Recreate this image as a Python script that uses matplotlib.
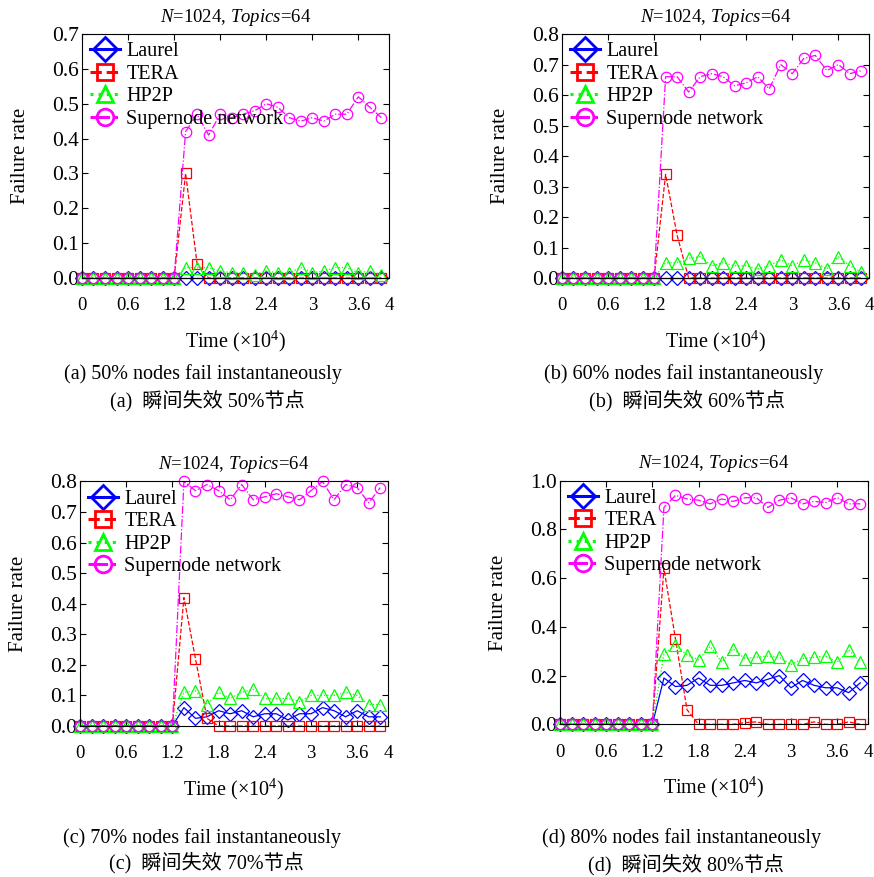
import matplotlib
matplotlib.use("Agg")
import matplotlib.pyplot as plt
from matplotlib.lines import Line2D

plt.rcParams['font.family'] = ['Liberation Serif', 'Noto Sans CJK SC']
plt.rcParams['mathtext.fontset'] = 'custom'
plt.rcParams['mathtext.rm'] = 'Liberation Serif'
plt.rcParams['mathtext.it'] = 'Liberation Serif:italic'

# time axis (x10^4)
time = [0.0, 0.15, 0.3, 0.45, 0.6, 0.75, 0.9, 1.05, 1.2,
        1.35, 1.5, 1.65, 1.8, 1.95, 2.1, 2.25, 2.4, 2.55,
        2.7, 2.85, 3.0, 3.15, 3.3, 3.45, 3.6, 3.75, 3.9]

series_names = ["Laurel", "TERA", "HP2P", "Supernode network"]

# (a) 50% nodes fail
laurel_a = [0, 0, 0, 0, 0, 0, 0, 0, 0,
            0, 0, 0, 0, 0, 0, 0, 0, 0,
            0, 0, 0, 0, 0, 0, 0, 0, 0]
tera_a = [0, 0, 0, 0, 0, 0, 0, 0, 0,
          0.30, 0.04, 0, 0, 0, 0, 0, 0, 0,
          0, 0, 0, 0, 0, 0, 0, 0, 0]
hp2p_a = [0, 0, 0, 0, 0, 0, 0, 0, 0,
          0.03, 0.03, 0.03, 0.02, 0.015, 0.015, 0.01, 0.02, 0.015,
          0.015, 0.03, 0.015, 0.02, 0.03, 0.03, 0.015, 0.02, 0.01]
super_a = [0, 0, 0, 0, 0, 0, 0, 0, 0,
           0.42, 0.47, 0.41, 0.47, 0.46, 0.47, 0.48, 0.50, 0.49,
           0.46, 0.45, 0.46, 0.45, 0.47, 0.47, 0.52, 0.49, 0.46]

# (b) 60% nodes fail
laurel_b = [0, 0, 0, 0, 0, 0, 0, 0, 0,
            0, 0, 0, 0, 0, 0, 0, 0, 0,
            0, 0, 0, 0, 0, 0, 0, 0, 0]
tera_b = [0, 0, 0, 0, 0, 0, 0, 0, 0,
          0.34, 0.14, 0, 0, 0, 0, 0, 0, 0,
          0, 0, 0, 0, 0, 0, 0, 0, 0]
hp2p_b = [0, 0, 0, 0, 0, 0, 0, 0, 0,
          0.05, 0.05, 0.065, 0.07, 0.04, 0.05, 0.04, 0.04, 0.03,
          0.04, 0.06, 0.04, 0.06, 0.05, 0.03, 0.07, 0.04, 0.02]
super_b = [0, 0, 0, 0, 0, 0, 0, 0, 0,
           0.66, 0.66, 0.61, 0.66, 0.67, 0.66, 0.63, 0.64, 0.66,
           0.62, 0.70, 0.67, 0.72, 0.73, 0.68, 0.70, 0.67, 0.68]

# (c) 70% nodes fail
laurel_c = [0, 0, 0, 0, 0, 0, 0, 0, 0,
            0.06, 0.025, 0.03, 0.05, 0.04, 0.05, 0.03, 0.04, 0.04,
            0.02, 0.04, 0.04, 0.06, 0.05, 0.03, 0.05, 0.03, 0.03]
tera_c = [0, 0, 0, 0, 0, 0, 0, 0, 0,
          0.42, 0.22, 0.025, 0, 0, 0, 0, 0, 0,
          0, 0, 0, 0, 0, 0, 0, 0, 0]
hp2p_c = [0, 0, 0, 0, 0, 0, 0, 0, 0,
          0.11, 0.115, 0.07, 0.11, 0.09, 0.11, 0.12, 0.09, 0.09,
          0.09, 0.08, 0.10, 0.10, 0.10, 0.11, 0.10, 0.07, 0.07]
super_c = [0, 0, 0, 0, 0, 0, 0, 0, 0,
           0.80, 0.77, 0.79, 0.77, 0.74, 0.79, 0.74, 0.75, 0.76,
           0.75, 0.74, 0.77, 0.80, 0.74, 0.79, 0.78, 0.73, 0.78]

# (d) 80% nodes fail
laurel_d = [0, 0, 0, 0, 0, 0, 0, 0, 0,
            0.19, 0.155, 0.16, 0.19, 0.16, 0.16, 0.17, 0.18, 0.17,
            0.185, 0.20, 0.15, 0.18, 0.16, 0.15, 0.15, 0.13, 0.17]
tera_d = [0, 0, 0, 0, 0, 0, 0, 0, 0,
          0.64, 0.35, 0.06, 0, 0, 0, 0, 0.007, 0.01,
          0, 0, 0, 0, 0.01, 0, 0, 0.01, 0]
hp2p_d = [0, 0, 0, 0, 0, 0, 0, 0, 0,
          0.29, 0.325, 0.285, 0.265, 0.32, 0.255, 0.31, 0.27, 0.275,
          0.28, 0.275, 0.245, 0.27, 0.275, 0.28, 0.255, 0.305, 0.255]
super_d = [0, 0, 0, 0, 0, 0, 0, 0, 0,
           0.89, 0.94, 0.925, 0.92, 0.905, 0.925, 0.915, 0.93, 0.93,
           0.89, 0.92, 0.93, 0.905, 0.915, 0.91, 0.93, 0.905, 0.905]

# letter, percent, series, ymax, axes rect, caption y (line 1, line 2)
panels = [
    ("a", "50", [laurel_a, tera_a, hp2p_a, super_a], 0.7, [0.0938, 0.683, 0.3513, 0.2782], (0.5735, 0.5435)),
    ("b", "60", [laurel_b, tera_b, hp2p_b, super_b], 0.8, [0.6430, 0.683, 0.3513, 0.2782], (0.5735, 0.5435)),
    ("c", "70", [laurel_c, tera_c, hp2p_c, super_c], 0.8, [0.0915, 0.1722, 0.3524, 0.2788], (0.0445, 0.0165)),
    ("d", "80", [laurel_d, tera_d, hp2p_d, super_d], 1.0, [0.6407, 0.1741, 0.3524, 0.2778], (0.0445, 0.0140)),
]

colors = ["#0000FF", "#FF0000", "#00FF00", "#FF00FF"]
markers = ["D", "s", "^", "o"]
styles = ["-", "--", ":", "-."]
msizes = [7.5, 7, 8, 7.5]

fig = plt.figure(figsize=(8.74, 8.77), dpi=100)

for letter, pct, data, ymax, pos, capy in panels:
    ax = fig.add_axes(pos)
    for vals, c, m, ls, ms in zip(data, colors, markers, styles, msizes):
        ax.plot(time, vals, color=c, ls=ls, lw=0.9, marker=m, ms=ms,
                mfc="none", mec=c, mew=0.9, clip_on=False)
    ax.set_xlim(0, 4)
    ax.set_ylim(0, ymax)
    ax.set_xticks([0, 0.6, 1.2, 1.8, 2.4, 3, 3.6, 4])
    ax.set_xticklabels(["0", "0.6", "1.2", "1.8", "2.4", "3", "3.6", "4"], fontsize=13.5)
    step = 0.2 if ymax == 1.0 else 0.1
    yt = [round(i * step, 1) for i in range(int(round(ymax / step)) + 1)]
    ax.set_yticks(yt)
    ax.set_yticklabels(["%.1f" % v for v in yt], fontsize=15.5)
    ax.tick_params(direction="in", top=True, right=True, length=4, width=0.8)
    ax.tick_params(axis="x", pad=14)
    ax.tick_params(axis="y", pad=2)
    for sp in ax.spines.values():
        sp.set_linewidth(0.8)
    ax.set_title(r"$N$=1024, $Topics$=64", fontsize=13.5, pad=9)
    ax.set_xlabel("Time (×10$^{4}$)", fontsize=14.5)
    ax.xaxis.set_label_coords(0.5, -0.26)
    ax.xaxis.label.set_va("center")
    ax.set_ylabel("Failure rate", fontsize=15)
    ax.yaxis.set_label_coords(-0.2, 0.5)
    ax.yaxis.label.set_va("center")

    handles = [Line2D([], [], color=c, ls=ls, lw=2.2, marker=m, ms=12,
                      mfc="none", mec=c, mew=2.0)
               for c, m, ls in zip(colors, markers, styles)]
    ax.legend(handles, series_names, loc="upper left", frameon=False,
              fontsize=14.5, handlelength=1.5, handletextpad=0.3,
              labelspacing=0.17, borderpad=0.2, borderaxespad=0.2)

    # captions below each panel
    cx = pos[0] + pos[2] / 2 - 0.037
    fig.text(cx, capy[0], "(%s) %s%% nodes fail instantaneously" % (letter, pct),
             ha="center", va="center", fontsize=14.5)
    fig.text(cx + 0.005, capy[1], "(%s)  瞬间失效 %s%%节点" % (letter, pct),
             ha="center", va="center", fontsize=14.5)

fig.savefig("out.png", dpi=100)
